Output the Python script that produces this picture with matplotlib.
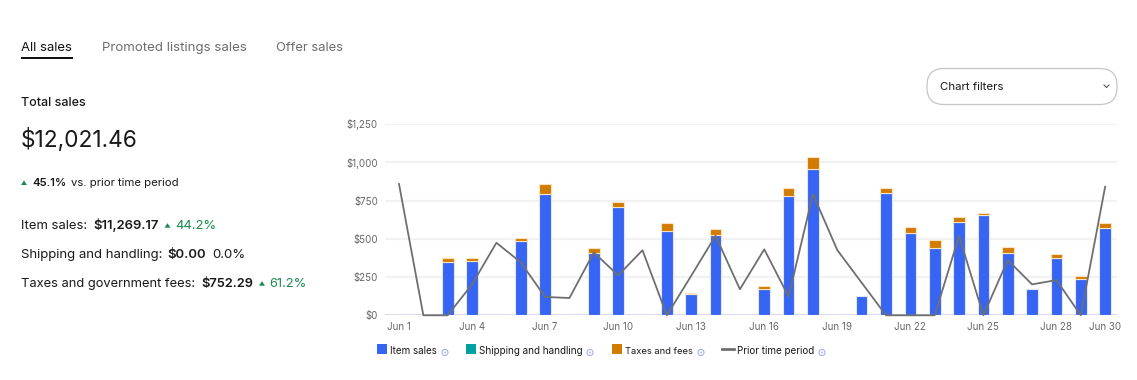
import matplotlib
matplotlib.use('Agg')
import matplotlib.pyplot as plt
from matplotlib.patches import FancyBboxPatch, Rectangle, Circle, Polygon
import numpy as np

# ---------------- data ----------------
days = list(range(1, 31))
item_sales = [0, 0, 346, 357, 0, 483, 790, 0, 407, 705, 0, 553, 137, 524, 0,
              174, 779, 953, 0, 126, 801, 535, 437, 611, 655, 409, 174, 372, 237, 572]
shipping = [0] * 30
taxes = [0, 0, 26, 19, 0, 20, 68, 0, 35, 35, 0, 50, 11, 37, 0,
         17, 52, 83, 0, 0, 33, 44, 55, 29, 11, 35, 0, 26, 20, 31]
prior = [858, 0, 0, 202, 474, 346, 120, 113, 411, 261, 425, 0, 258, 520, 170,
         431, 122, 792, 426, 213, 0, 0, 0, 518, 0, 361, 202, 230, 0, 840]
tick_days = [1, 4, 7, 10, 13, 16, 19, 22, 25, 28, 30]
tick_labels = [f"Jun {d}" for d in tick_days]
y_ticks = [0, 250, 500, 750, 1000, 1250]
y_tick_labels = ["$0", "$250", "$500", "$750", "$1,000", "$1,250"]
legend_labels = ["Item sales", "Shipping and handling", "Taxes and fees", "Prior time period"]
tabs = ["All sales", "Promoted listings sales", "Offer sales"]

BLUE = '#3665f3'
TEAL = '#00a0a3'
ORANGE = '#d17c00'
GRAY_LINE = '#6f6f6f'
GREEN = '#1a8a4f'
DARK = '#191919'

plt.rcParams['font.family'] = ['Inter', 'DejaVu Sans']

W, H = 1137, 380
fig = plt.figure(figsize=(W / 100, H / 100), dpi=100)
fig.patch.set_facecolor('white')
bg = fig.add_axes([0, 0, 1, 1], zorder=0)
bg.set_xlim(0, W)
bg.set_ylim(H, 0)
bg.axis('off')

# ---------------- chart ----------------
x0, x1, y0, y1 = 385, 1117, 315.3, 124
ax = fig.add_axes([x0 / W, (H - y0) / H, (x1 - x0) / W, (y0 - y1) / H], zorder=1)
ax.patch.set_alpha(0)
px_day = 24.35
ax.set_xlim(1 - (399 - x0) / px_day, 1 + (x1 - 399) / px_day)
ax.set_ylim(0, 1250)

d = np.array(days)
it = np.array(item_sales, float)
sh = np.array(shipping, float)
tx = np.array(taxes, float)
bw = 0.48
edge = '#dfe6fd'
m = it > 0
ax.bar(d[m], it[m], width=bw, color=BLUE, edgecolor=edge, linewidth=0.8, zorder=2)
m = sh > 0
if m.any():
    ax.bar(d[m], sh[m], bottom=it[m], width=bw, color=TEAL, edgecolor=edge, linewidth=0.8, zorder=2)
m = tx > 0
ax.bar(d[m], tx[m], bottom=(it + sh)[m], width=bw, color=ORANGE, edgecolor='#fbe3c2', linewidth=0.8, zorder=2)
ax.plot(days, prior, color=GRAY_LINE, lw=1.3, zorder=3, clip_on=False)

ax.set_yticks(y_ticks)
ax.set_yticklabels(y_tick_labels)
ax.set_xticks(tick_days)
ax.set_xticklabels(tick_labels)
ax.yaxis.grid(True, color='#f2f2f2', lw=1.6)
ax.set_axisbelow(True)
ax.axhline(0, color='#d3d6e6', lw=1.2, zorder=1.5)
for s in ax.spines.values():
    s.set_visible(False)
ax.tick_params(axis='both', length=0, labelsize=7, colors='#666666')
ax.tick_params(axis='y', pad=5)
ax.tick_params(axis='x', pad=5)

renderer = fig.canvas.get_renderer()
inv = bg.transData.inverted()


def put(x, yb, s, w=None, size=10, color=DARK, weight='normal'):
    t = bg.text(x, yb, s, fontsize=size, color=color, fontweight=weight,
                va='baseline', ha='left')
    if w:
        bb = t.get_window_extent(renderer)
        t.set_fontsize(size * w / bb.width)
    return t


def right_edge(t):
    bb = t.get_window_extent(renderer)
    return inv.transform((bb.x1, bb.y1))[0]


def tri(x, ytop, w=6, h=4.5):
    bg.add_patch(Polygon([[x, ytop + h], [x + w, ytop + h], [x + w / 2, ytop]],
                         closed=True, color=GREEN, lw=0))


def row(x, yb, first, first_w, base, parts):
    """parts: list of (kind, text, weight, color, gap) ; kind 'T' text or 'A' arrow"""
    t = put(x, yb, first, first_w, base, DARK)
    size = t.get_fontsize()
    cx = right_edge(t)
    for kind, txt, weight, color, gap in parts:
        cx += gap
        if kind == 'A':
            tri(cx, yb - 6.1)
            cx += 6
        else:
            tt = bg.text(cx, yb, txt, fontsize=size, color=color, fontweight=weight,
                         va='baseline', ha='left')
            cx = right_edge(tt)


# ---------------- tabs ----------------
put(21, 50.7, tabs[0], 51, 10.5, '#111111')
put(102, 50.7, tabs[1], 145, 10.5, '#6e6e6e')
put(276, 50.7, tabs[2], 67, 10.5, '#6e6e6e')
bg.add_patch(Rectangle((21, 56.5), 52, 2.6, color='#111111', lw=0))

# ---------------- summary ----------------
put(21, 106, "Total sales", 65, 10, DARK, 'medium')
put(21, 146.7, "$12,021.46", 117, 19, DARK)
tri(21, 180.5)
t = put(200, 185.7, "vs. prior time period", 108, 8, DARK)
p = bg.text(32, 185.7, "45.1%", fontsize=t.get_fontsize(), color=DARK, fontweight='semibold',
            va='baseline', ha='left')
t.set_x(right_edge(p) + 5)

row(21, 229.3, "Item sales:", 66, 10.5,
    [('T', "$11,269.17", 'semibold', DARK, 6), ('A', '', '', '', 6),
     ('T', "44.2%", 'normal', GREEN, 5)])
row(21, 258.3, "Shipping and handling:", 142, 10.5,
    [('T', "$0.00", 'semibold', DARK, 5), ('T', "0.0%", 'normal', DARK, 6)])
row(21, 287.3, "Taxes and government fees:", 174, 10.5,
    [('T', "$752.29", 'semibold', DARK, 6), ('A', '', '', '', 6),
     ('T', "61.2%", 'normal', GREEN, 4)])

# ---------------- chart filters button ----------------
bg.add_patch(FancyBboxPatch((927, 68.5), 190, 36, boxstyle='round,pad=0,rounding_size=17',
                            fc='white', ec='#c6c6c6', lw=0.9))
put(940, 90, "Chart filters", 64, 9, DARK)
bg.plot([1104, 1106.5, 1109], [85, 87.5, 85], color='#555555', lw=0.8)

# ---------------- legend ----------------
leg_cols = [BLUE, TEAL, ORANGE, GRAY_LINE]
sq_x = [377, 466, 612, 722]
txt_x = [390, 479, 625, 737]
txt_w = [47, 104, 68, 77]
info_x = [445, 590, 701, 822]
for i in range(4):
    if i < 3:
        bg.add_patch(Rectangle((sq_x[i], 344), 9.5, 9.5, color=leg_cols[i], lw=0))
    else:
        bg.plot([sq_x[i], sq_x[i] + 11.5], [349.3, 349.3], color=leg_cols[i], lw=2)
    put(txt_x[i], 354.3, legend_labels[i], txt_w[i], 7.5, DARK)
    bg.add_patch(Circle((info_x[i], 352.5), 3.0, fc='none', ec='#a3b1f2', lw=0.8))
    bg.add_patch(Circle((info_x[i], 352.5), 0.9, fc='#a3b1f2', ec='none'))

fig.savefig('out.png', dpi=100, facecolor='white')
